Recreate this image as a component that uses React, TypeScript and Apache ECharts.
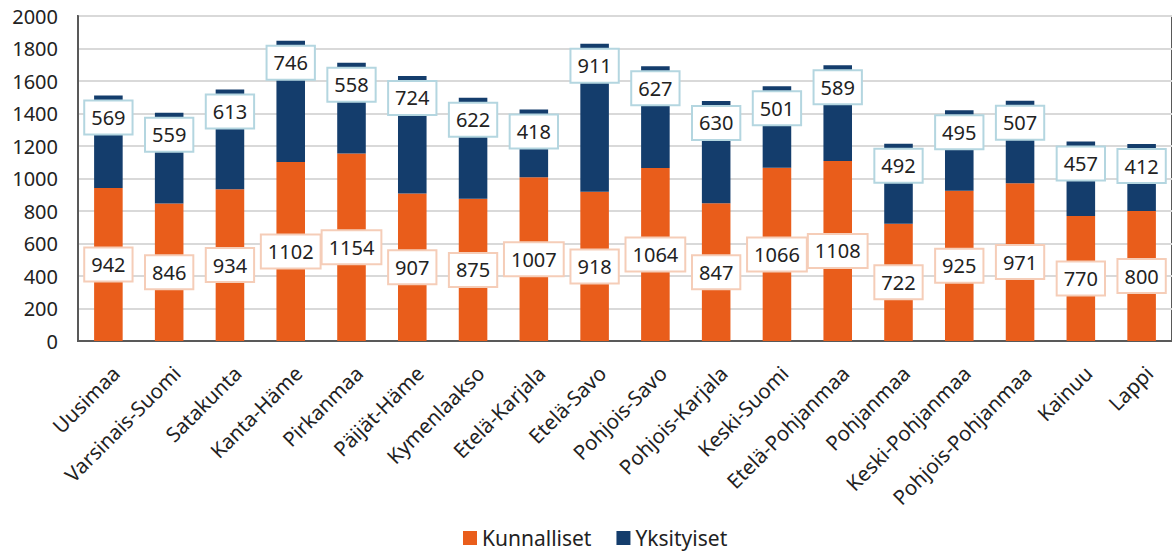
import React, { useEffect, useRef } from "react";
import * as echarts from "echarts";

const categories = [
  "Uusimaa", "Varsinais-Suomi", "Satakunta", "Kanta-Häme", "Pirkanmaa", "Päijät-Häme",
  "Kymenlaakso", "Etelä-Karjala", "Etelä-Savo", "Pohjois-Savo", "Pohjois-Karjala",
  "Keski-Suomi", "Etelä-Pohjanmaa", "Pohjanmaa", "Keski-Pohjanmaa", "Pohjois-Pohjanmaa",
  "Kainuu", "Lappi",
];
const kunnalliset = [942, 846, 934, 1102, 1154, 907, 875, 1007, 918, 1064, 847, 1066, 1108, 722, 925, 971, 770, 800];
const yksityiset = [569, 559, 613, 746, 558, 724, 622, 418, 911, 627, 630, 501, 589, 492, 495, 507, 457, 412];
const seriesNames = ["Kunnalliset", "Yksityiset"];

const FONT = "'Noto Sans', sans-serif";
const TEXT = "#222222";

export default function App() {
  const ref = useRef<HTMLDivElement>(null);
  useEffect(() => {
    if (!ref.current) return;
    const chart = echarts.init(ref.current, null, { renderer: "svg" });
    chart.setOption({
      animation: false,
      textStyle: { fontFamily: FONT },
      grid: {
        left: 78,
        top: 16,
        width: 1096,
        bottom: 213,
        show: true,
        borderColor: "#595959",
        borderWidth: 2,
        backgroundColor: "transparent",
      },
      legend: {
        left: 463,
        top: 526,
        icon: "rect",
        itemWidth: 14,
        itemHeight: 14,
        itemGap: 25,
        padding: 0,
        data: seriesNames,
        textStyle: { fontSize: 21, lineHeight: 24, color: TEXT, fontFamily: FONT },
      },
      xAxis: {
        type: "category",
        data: categories,
        axisLine: { show: true, lineStyle: { color: "#595959", width: 2 } },
        axisTick: { show: false },
        axisLabel: {
          rotate: 45,
          interval: 0,
          margin: 21,
          verticalAlign: "top",
          fontSize: 20.5,
          color: TEXT,
          fontFamily: FONT,
        },
      },
      yAxis: {
        type: "value",
        min: 0,
        max: 2000,
        interval: 200,
        axisLine: { show: true, lineStyle: { color: "#595959", width: 2 } },
        axisTick: { show: false },
        axisLabel: {
          fontSize: 20,
          color: TEXT,
          margin: 20,
          fontFamily: FONT,
          formatter: (v: number) => String(v),
        },
        splitLine: { lineStyle: { color: "#d9d9d9", width: 2 } },
      },
      series: [
        {
          name: seriesNames[0],
          type: "bar",
          stack: "total",
          barWidth: "47%",
          data: kunnalliset,
          itemStyle: { color: "#E95D1B" },
          label: {
            show: true,
            position: "inside",
            fontSize: 20,
            color: TEXT,
            fontFamily: FONT,
            backgroundColor: "#ffffff",
            borderColor: "#F5CDB8",
            borderWidth: 2,
            padding: [6, 6],
          },
        },
        {
          name: seriesNames[1],
          type: "bar",
          stack: "total",
          barWidth: "47%",
          data: yksityiset,
          itemStyle: { color: "#143D6C" },
          label: {
            show: true,
            position: "insideTop",
            distance: 6,
            fontSize: 20,
            color: TEXT,
            fontFamily: FONT,
            backgroundColor: "#ffffff",
            borderColor: "#B4D6E0",
            borderWidth: 2,
            padding: [6, 6],
          },
        },
      ],
    });
    return () => chart.dispose();
  }, []);
  return <div ref={ref} style={{ width: 1172, height: 554, position: "absolute", left: 0, top: 0 }} />;
}
